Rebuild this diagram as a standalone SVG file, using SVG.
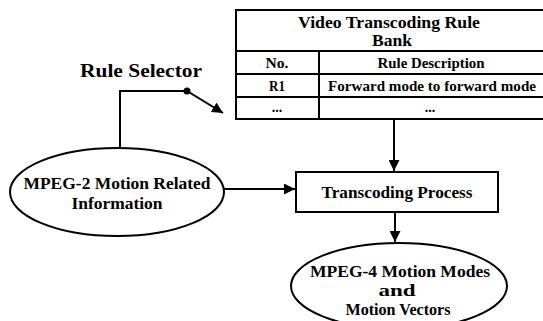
<svg xmlns="http://www.w3.org/2000/svg" width="543" height="321" viewBox="0 0 543 321">
<defs>
<style>
text{font-family:"Liberation Serif","Times New Roman",serif;font-weight:bold;fill:#000;text-anchor:middle}
.l{fill:none;stroke:#000;stroke-width:2}
.s{font-size:14px}
.m{font-size:17px}
</style>
<marker id="ah" viewBox="0 0 10 10" refX="10" refY="5" markerWidth="11" markerHeight="11" markerUnits="userSpaceOnUse" orient="auto"><path d="M0,0L10,5L0,10z" fill="#000"/></marker>
</defs>
<rect width="543" height="321" fill="#fff"/>
<g id="rulebank">
<rect x="236" y="10" width="320" height="109" class="l"/>
<line x1="236" y1="51" x2="556" y2="51" class="l"/>
<line x1="236" y1="74" x2="556" y2="74" class="l"/>
<line x1="236" y1="97" x2="556" y2="97" class="l"/>
<line x1="319" y1="51" x2="319" y2="119" class="l"/>
<text x="389" y="28" class="m" textLength="182" lengthAdjust="spacingAndGlyphs">Video Transcoding Rule</text>
<text x="392" y="46" class="m" textLength="40" lengthAdjust="spacingAndGlyphs">Bank</text>
<text x="277" y="68" class="s" textLength="23" lengthAdjust="spacingAndGlyphs">No.</text>
<text x="431" y="68" class="s" textLength="107" lengthAdjust="spacingAndGlyphs">Rule Description</text>
<text x="277" y="91" class="s" textLength="16" lengthAdjust="spacingAndGlyphs">R1</text>
<text x="432" y="91" class="s" textLength="208" lengthAdjust="spacingAndGlyphs">Forward mode to forward mode</text>
<text x="277" y="112" class="s">...</text>
<text x="430" y="112" class="s">...</text>
</g>
<g id="process">
<rect x="296" y="172" width="202" height="40" class="l"/>
<text x="397" y="198" class="m" textLength="151" lengthAdjust="spacingAndGlyphs">Transcoding Process</text>
</g>
<g id="mpeg2">
<ellipse cx="117" cy="192" rx="107" ry="44" class="l"/>
<text x="117" y="189" class="m" textLength="187" lengthAdjust="spacingAndGlyphs">MPEG-2 Motion Related</text>
<text x="117" y="209" class="m" textLength="91" lengthAdjust="spacingAndGlyphs">Information</text>
</g>
<g id="mpeg4">
<ellipse cx="399" cy="286" rx="108" ry="43" class="l"/>
<text x="400" y="277" class="m" textLength="180" lengthAdjust="spacingAndGlyphs">MPEG-4 Motion Modes</text>
<text x="397" y="296" class="m" textLength="37" lengthAdjust="spacingAndGlyphs">and</text>
<text x="398" y="315" class="m" textLength="105" lengthAdjust="spacingAndGlyphs">Motion Vectors</text>
</g>
<g id="selector">
<text x="141" y="77" style="font-size:18px" textLength="122" lengthAdjust="spacingAndGlyphs">Rule Selector</text>
</g>
<g id="connectors">
<line x1="394" y1="119" x2="394" y2="171" class="l" marker-end="url(#ah)"/>
<line x1="395" y1="212" x2="395" y2="242" class="l" marker-end="url(#ah)"/>
<line x1="224" y1="189" x2="295" y2="189" class="l" marker-end="url(#ah)"/>
<polyline points="120,148 120,91 187,91 223,113" class="l" marker-end="url(#ah)"/>
<circle cx="187" cy="91" r="3.5" fill="#000"/>
</g>
</svg>
